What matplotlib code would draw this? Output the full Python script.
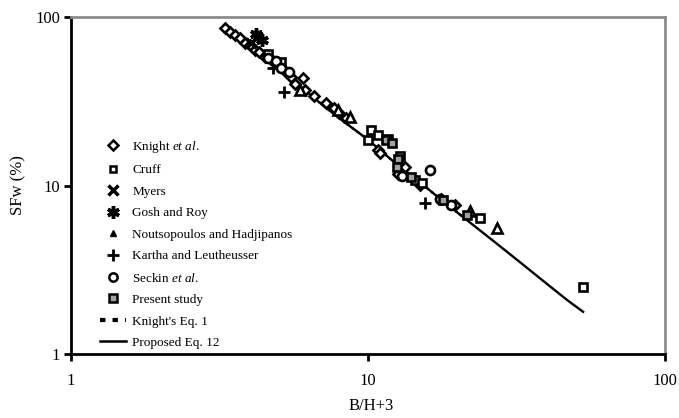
import matplotlib
matplotlib.use("Agg")
import matplotlib.pyplot as plt
from matplotlib.lines import Line2D

plt.rcParams["font.family"] = ["Liberation Serif", "DejaVu Serif"]
plt.rcParams["mathtext.fontset"] = "custom"
plt.rcParams["mathtext.rm"] = "Liberation Serif"
plt.rcParams["mathtext.it"] = "Liberation Serif:italic"

# ---- data: (B/H + 3, %SFw) ----
knight_x = [3.30, 3.43, 3.57, 3.70, 3.85, 4.00, 4.16, 4.30, 4.50, 4.70, 4.86, 5.00, 5.25, 5.50,
            6.05, 5.68, 6.14, 6.60, 7.20, 7.70, 8.00, 8.40, 10.8, 11.0, 12.6, 13.3, 15.0, 17.6,
            19.6]
knight_y = [86.0, 82.0, 78.0, 75.0, 70.0, 68.0, 64.0, 62.0, 58.0, 56.0, 53.0, 52.0, 48.0, 44.0,
            43.5, 40.0, 37.0, 34.0, 31.0, 29.0, 27.0, 25.0, 16.2, 15.5, 11.7, 12.8, 10.1, 8.3,
            7.7]

cruff_x = [4.60, 5.10, 10.2, 10.8, 10.0, 11.7, 12.8, 14.4, 15.2, 23.8, 53.0]
cruff_y = [60.0, 54.0, 21.3, 20.0, 18.6, 19.0, 15.0, 10.8, 10.3, 6.4, 2.5]

myers_x = [4.23, 4.05]
myers_y = [76.0, 70.0]

gosh_x = [4.20, 4.40]
gosh_y = [79.0, 73.0]

nout_x = [5.90, 7.90, 8.70, 22.0, 27.2]
nout_y = [37.0, 28.0, 25.5, 7.1, 5.6]

kartha_x = [5.20, 15.6, 4.80]
kartha_y = [36.0, 7.9, 50.0]

seckin_x = [16.2, 17.5, 19.0, 4.60, 4.90, 5.10, 5.40, 13.0]
seckin_y = [12.4, 8.3, 7.7, 57.0, 55.0, 50.0, 47.0, 11.4]

present_x = [11.5, 12.0, 12.6, 12.5, 14.0, 17.9, 21.6]
present_y = [18.5, 17.8, 14.3, 12.9, 11.2, 8.2, 6.7]

knight_eq_x = [3.3, 4, 5, 6, 7, 8, 10, 12, 15, 18, 22]
knight_eq_y = [87.5, 66.5, 48.6, 37.7, 30.3, 25.1, 18.7, 14.2, 10.4, 8.0, 6.05]

prop_x = [3.3, 4, 5, 6, 7, 8, 10, 12, 15, 18, 22, 27, 33, 40, 47, 53]
prop_y = [87.2, 66.0, 48.5, 37.9, 30.2, 25.1, 18.7, 14.2, 10.4, 8.0, 6.05, 4.55, 3.43, 2.61, 2.08, 1.78]

fig = plt.figure(figsize=(6.79, 4.18), dpi=100)
ax = fig.add_axes([71 / 679, 1 - 354 / 418, (665 - 71) / 679, (354 - 17) / 418])
ax.set_xscale("log")
ax.set_yscale("log")
ax.set_xlim(1, 100)
ax.set_ylim(1, 100)

mk = dict(linestyle="none", markeredgecolor="black", markeredgewidth=1.9, zorder=3)

ax.plot(knight_eq_x, knight_eq_y, color="black", lw=1.6, dashes=(1.2, 1.5), zorder=1)
ax.plot(prop_x, prop_y, color="black", lw=1.7, zorder=2)

ax.plot(knight_x, knight_y, marker="D", markersize=5.5, markerfacecolor="white", **mk)
ax.plot(cruff_x, cruff_y, marker="s", markersize=5.5, markerfacecolor="white", **mk)
ax.plot(myers_x, myers_y, marker="x", markersize=7, color="black", markeredgewidth=2.5,
        linestyle="none", zorder=3)
ax.plot(gosh_x, gosh_y, marker=(6, 2, 0), markersize=9, color="black", markeredgewidth=2.5,
        linestyle="none", zorder=3)
ax.plot(nout_x, nout_y, marker="^", markersize=6.5, markerfacecolor="white", **mk)
ax.plot(kartha_x, kartha_y, marker="+", markersize=9, color="black", markeredgewidth=2,
        linestyle="none", zorder=3)
ax.plot(seckin_x, seckin_y, marker="o", markersize=6.5, markerfacecolor="white", **mk)
ax.plot(present_x, present_y, marker="s", markersize=6, markerfacecolor="#a0a0a0", **mk)

# frame
for side in ("left", "bottom"):
    ax.spines[side].set_color("black")
    ax.spines[side].set_linewidth(2)
for side in ("top", "right"):
    ax.spines[side].set_color("#8c8c8c")
    ax.spines[side].set_linewidth(2)

ax.set_xticks([1, 10, 100])
ax.set_xticklabels(["1", "10", "100"])
ax.set_yticks([1, 10, 100])
ax.set_yticklabels(["1", "10", "100"])
ax.minorticks_off()
ax.tick_params(axis="both", direction="out", length=5, width=2, color="black",
               labelsize=12)
ax.tick_params(axis="x", pad=9)
ax.tick_params(axis="y", pad=3)

ax.set_xlabel("B/H+3", fontsize=12)
ax.set_ylabel("SFw (%)", fontsize=12)
ax.xaxis.set_label_coords((371 - 71) / 594, (354 - 406) / 337)
ax.yaxis.set_label_coords((18 - 71) / 594, (354 - 185) / 337)
ax.xaxis.label.set_va("center")
ax.yaxis.label.set_va("center")

handles = [
    Line2D([], [], marker="D", markersize=5, markerfacecolor="white", markeredgecolor="black",
           markeredgewidth=1.8, linestyle="none"),
    Line2D([], [], marker="s", markersize=5, markerfacecolor="white", markeredgecolor="black",
           markeredgewidth=1.8, linestyle="none"),
    Line2D([], [], marker="x", markersize=7, color="black", markeredgewidth=2.5, linestyle="none"),
    Line2D([], [], marker=(6, 2, 0), markersize=9, color="black", markeredgewidth=2.5,
           linestyle="none"),
    Line2D([], [], marker="^", markersize=5, color="black", linestyle="none"),
    Line2D([], [], marker="+", markersize=9, color="black", markeredgewidth=2, linestyle="none"),
    Line2D([], [], marker="o", markersize=6, markerfacecolor="white", markeredgecolor="black",
           markeredgewidth=1.8, linestyle="none"),
    Line2D([], [], marker="s", markersize=5.5, markerfacecolor="#a0a0a0", markeredgecolor="black",
           markeredgewidth=1.8, linestyle="none"),
    Line2D([], [], color="black", lw=3, dashes=(1.3, 1.7)),
    Line2D([], [], color="black", lw=1.8),
]
labels = [
    r"Knight $\it{et\ al.}$",
    "Cruff",
    "Myers",
    "Gosh and Roy",
    "Noutsopoulos and Hadjipanos",
    "Kartha and Leutheusser",
    r"Seckin $\it{et\ al.}$",
    "Present study",
    "Knight's Eq. 1",
    "Proposed Eq. 12",
]
fig.legend(handles, labels, loc="upper left", bbox_to_anchor=(100 / 679, 1 - 139 / 418),
           frameon=False, fontsize=9.5, labelspacing=0.7, handlelength=2.0,
           handletextpad=0.45, borderpad=0, borderaxespad=0)

fig.savefig("out.png", dpi=100)
